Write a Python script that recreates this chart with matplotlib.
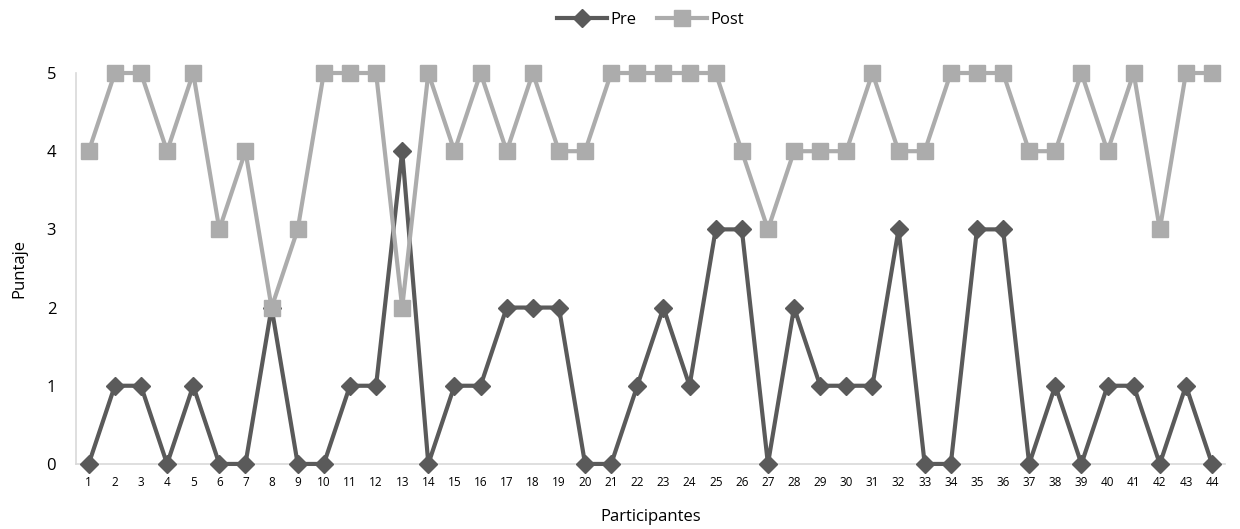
import matplotlib.pyplot as plt

# Data: scores per participant, before and after
participants = list(range(1, 45))
pre = [0, 1, 1, 0, 1, 0, 0, 2, 0, 0, 1, 1, 4, 0, 1, 1, 2, 2, 2, 0, 0, 1,
       2, 1, 3, 3, 0, 2, 1, 1, 1, 3, 0, 0, 3, 3, 0, 1, 0, 1, 1, 0, 1, 0]
post = [4, 5, 5, 4, 5, 3, 4, 2, 3, 5, 5, 5, 2, 5, 4, 5, 4, 5, 4, 4, 5, 5,
        5, 5, 5, 4, 3, 4, 4, 4, 5, 4, 4, 5, 5, 5, 4, 4, 5, 4, 5, 3, 5, 5]
y_ticks = [0, 1, 2, 3, 4, 5]

plt.rcParams['font.family'] = ['Open Sans', 'DejaVu Sans']

fig = plt.figure(figsize=(12.4, 5.29), dpi=100)
ax = fig.add_axes([0.061, 0.123, 0.927, 0.739])

ax.plot(participants, pre, color='#5a5a5a', linewidth=3, marker='D',
        markersize=9.5, label='Pre', zorder=3)
ax.plot(participants, post, color='#acacac', linewidth=3, marker='s',
        markersize=12, label='Post', zorder=4)

ax.set_xlim(0.5, 44.5)
ax.set_ylim(0, 5)
ax.set_xticks(participants)
ax.set_xticklabels([str(p) for p in participants], fontsize=8.5)
ax.set_yticks(y_ticks)
ax.set_yticklabels([str(v) for v in y_ticks], fontsize=12)
ax.tick_params(length=0)
ax.tick_params(axis='x', pad=9)
ax.tick_params(axis='y', pad=14)

for side in ['top', 'right']:
    ax.spines[side].set_visible(False)
for side in ['left', 'bottom']:
    ax.spines[side].set_color('#d9d9d9')
    ax.spines[side].set_linewidth(1.2)
    ax.spines[side].set_zorder(1)

ax.set_xlabel('Participantes', fontsize=12, labelpad=14)
ax.set_ylabel('Puntaje', fontsize=12, labelpad=14)

ax.legend(loc='center', bbox_to_anchor=(0.5, 1.135), ncol=2,
          frameon=False, fontsize=12, handlelength=3, columnspacing=1.2,
          handletextpad=0.2)

for line in ax.lines:
    line.set_clip_on(False)

fig.savefig('out.png', dpi=100)
